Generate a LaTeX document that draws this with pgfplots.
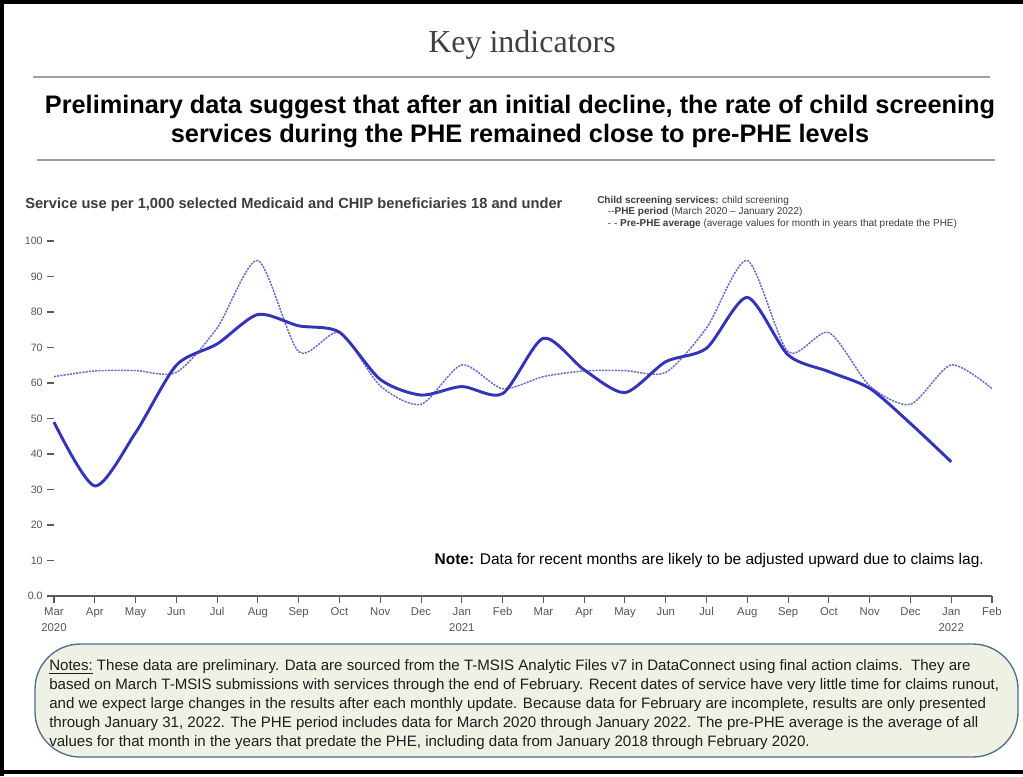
\documentclass[border=0pt]{standalone}
\usepackage{pgfplots}
\pgfplotsset{compat=1.18}
\usepackage{fontspec}
\setmainfont{Liberation Sans}
\newfontfamily\seriffont{Liberation Serif}
\definecolor{phe}{RGB}{52,52,185}
\definecolor{pre}{RGB}{105,105,205}
\definecolor{boxfill}{RGB}{238,241,228}
\definecolor{boxdraw}{RGB}{80,110,140}
\definecolor{txtgray}{RGB}{85,85,85}
\begin{document}
\begin{tikzpicture}[x=0.75pt,y=0.75pt]
% canvas
\fill[white] (0,0) rectangle (1023,776);
\fill[black] (0,0) rectangle (4,776);
\fill[black] (0,772) rectangle (1023,776);
\fill[black] (0,2) rectangle (1023,6);
% header
\node[font=\seriffont\fontsize{24}{28}\selectfont, text={rgb,255:red,64;green,64;blue,64}] at (522,731) {Key indicators};
\draw[gray!75, line width=1.2pt] (33,699) -- (990,699);
\node[font=\bfseries\fontsize{19}{21.75}\selectfont, align=center] at (520,654.5)
  {Preliminary data suggest that after an initial decline, the rate of child screening\\services during the PHE remained close to pre-PHE levels};
\draw[gray!75, line width=1.2pt] (37,616) -- (995,616);
% subtitle
\node[anchor=west, font=\bfseries\fontsize{11}{13}\selectfont, text={rgb,255:red,60;green,60;blue,60}, inner sep=0pt] at (25,571)
  {Service use per 1,000 selected Medicaid and CHIP beneficiaries 18 and under};
% legend text
\node[anchor=north west, align=left, inner sep=0pt, font=\fontsize{7.5}{8.6}\selectfont, text={rgb,255:red,60;green,60;blue,60}] at (597,580)
  {\textbf{Child screening services:} child screening\\
   \hspace*{8pt}-{}-\textbf{PHE period} (March 2020 -- January 2022)\\
   \hspace*{8pt}- - \textbf{Pre-PHE average} (average values for month in years that predate the PHE)};
\begin{axis}[
  at={(40.5pt,135pt)}, anchor=south west,
  scale only axis, width=703.5pt, height=266.25pt,
  xmin=0, xmax=23, ymin=0, ymax=100,
  axis x line*=bottom, axis y line*=left,
  y axis line style={draw=none},
  x axis line style={draw={rgb,255:red,90;green,90;blue,90}, line width=1pt},
  xtick={0,...,23},
  xticklabels={{Mar\\2020},Apr,May,Jun,Jul,Aug,Sep,Oct,Nov,Dec,{Jan\\2021},Feb,Mar,Apr,May,Jun,Jul,Aug,Sep,Oct,Nov,Dec,{Jan\\2022},Feb},
  xticklabel style={align=center, font=\fontsize{8.5}{12}\selectfont, text=txtgray},
  ytick={0,10,...,100},
  yticklabels={0.0,10,20,30,40,50,60,70,80,90,100},
  yticklabel style={font=\fontsize{8}{9}\selectfont, text=txtgray},
  tick align=outside,
  x tick style={draw={rgb,255:red,90;green,90;blue,90}, line width=0.8pt},
  y tick style={draw={rgb,255:red,90;green,90;blue,90}, line width=1pt},
  xtick pos=bottom, ytick pos=left,
  major tick length=5pt,
  clip=false,
]
\addplot[pre, line width=1.1pt, dash pattern=on 1.6pt off 0.8pt, smooth, tension=0.45] coordinates {
(0,61.8) (1,63.4) (2,63.5) (3,63.0) (4,75.5) (5,94.5) (6,68.8) (7,74.2) (8,59.2) (9,54.0) (10,65.1) (11,58.4)
(12,61.8) (13,63.4) (14,63.5) (15,63.0) (16,75.5) (17,94.5) (18,68.8) (19,74.2) (20,59.2) (21,54.0) (22,65.1) (23,58.4)};
\addplot[phe, line width=2.2pt, smooth, tension=0.45] coordinates {
(0,49) (1,31) (2,46) (3,65) (4,71) (5,79.3) (6,76.1) (7,74.3) (8,61) (9,56.6) (10,59) (11,57)
(12,72.6) (13,63.7) (14,57.3) (15,66) (16,69.8) (17,84.1) (18,67.9) (19,63.2) (20,58.5) (21,48.6) (22,37.8)};
\end{axis}
% note
\node[anchor=east, font=\fontsize{11.6}{13}\selectfont, inner sep=0pt] at (984,216)
  {\textbf{Note:} Data for recent months are likely to be adjusted upward due to claims lag.};
% notes box
\draw[fill=boxfill, draw=boxdraw, line width=1pt, rounded corners=34pt] (35,19) rectangle (1018,132);
\node[anchor=west, align=left, inner sep=0pt, font=\fontsize{11.3}{14.25}\selectfont, text={rgb,255:red,30;green,30;blue,30}] at (49,71)
  {\underline{Notes:} These data are preliminary. Data are sourced from the T-MSIS Analytic Files v7 in DataConnect using final action claims.\ \ They are\\
   based on March T-MSIS submissions with services through the end of February. Recent dates of service have very little time for claims runout,\\
   and we expect large changes in the results after each monthly update. Because data for February are incomplete, results are only presented\\
   through January 31, 2022. The PHE period includes data for March 2020 through January 2022. The pre-PHE average is the average of all\\
   values for that month in the years that predate the PHE, including data from January 2018 through February 2020.};
\end{tikzpicture}
\end{document}
